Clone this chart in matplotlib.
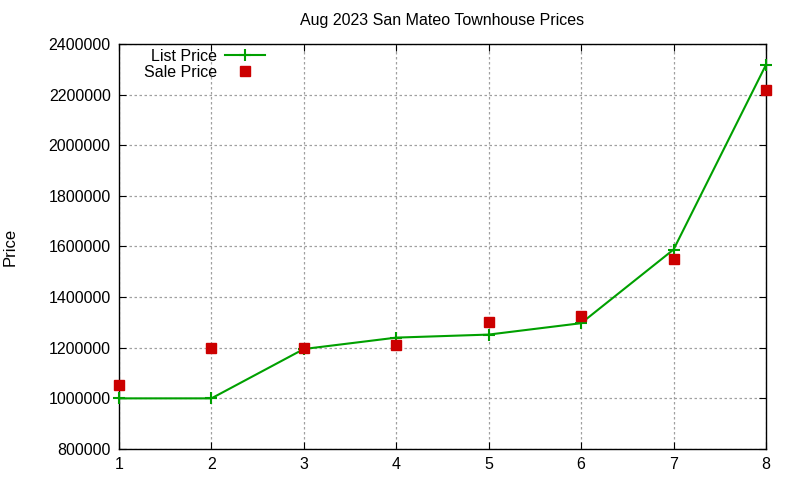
import matplotlib
matplotlib.use('Agg')
import matplotlib.pyplot as plt

plt.rcParams['font.family'] = ['Liberation Sans', 'DejaVu Sans']

# data
x = [1, 2, 3, 4, 5, 6, 7, 8]
list_price = [1000000, 1000000, 1195000, 1240000, 1252000, 1297000, 1588000, 2318000]
sale_price = [1053000, 1200000, 1200000, 1211000, 1300000, 1326000, 1549000, 2219000]
yticks = [800000, 1000000, 1200000, 1400000, 1600000, 1800000, 2000000, 2200000, 2400000]

fig = plt.figure(figsize=(8, 4.8), dpi=100)
ax = fig.add_axes([0.14875, 0.0646, 0.80875, 0.84375])

ax.plot(x, list_price, color='#00a000', lw=1.5, marker='+', ms=9, mew=1.5,
        label='List Price', clip_on=False, zorder=3)
ax.plot(x, sale_price, ls='none', color='#cc0000', marker='s', ms=6.5,
        label='Sale Price', clip_on=False, zorder=4)

ax.set_xlim(1, 8)
ax.set_ylim(800000, 2400000)
ax.set_xticks(x)
ax.set_yticks(yticks)
ax.set_yticklabels([str(v) for v in yticks])
ax.tick_params(direction='in', top=True, right=True, labelsize=11.5, length=5, pad=6)
ax.grid(True, color='#a0a0a0', ls=(0, (2, 2)), lw=0.9)
for s in ax.spines.values():
    s.set_linewidth(1.0)

ax.set_title('Aug 2023 San Mateo Townhouse Prices', fontsize=11.5, pad=14)
ax.set_ylabel('Price', fontsize=12, labelpad=22)

ax.legend(loc='upper left', bbox_to_anchor=(0.024, 1.012), frameon=False, markerfirst=False,
          fontsize=11.5, handlelength=2.5, labelspacing=0.05, borderaxespad=0.2,
          handletextpad=0.5)

fig.savefig('out.png', dpi=100)
